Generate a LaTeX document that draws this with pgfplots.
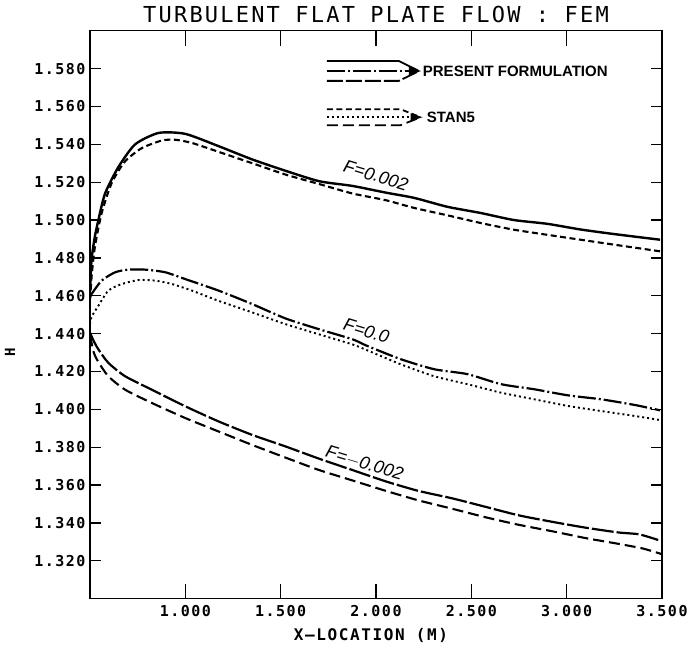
\documentclass[border=0pt]{standalone}
\usepackage{pgfplots}
\pgfplotsset{compat=1.18}
\usepackage{fontspec}
\setmainfont{Liberation Sans}
\newfontfamily\plotfont{DejaVu Sans Mono}[LetterSpace=10]
\newfontfamily\curvefont{Liberation Sans}
\usetikzlibrary{arrows.meta}

\tikzset{
  presA/.style={black, line width=2.4bp},
  presB/.style={black, line width=2.2bp, dash pattern=on 18bp off 3bp on 2bp off 3bp},
  presC/.style={black, line width=2.2bp, dash pattern=on 22bp off 3bp},
  stanA/.style={black, line width=2.1bp, dash pattern=on 6bp off 3.5bp},
  stanB/.style={black, line width=1.9bp, dash pattern=on 2bp off 3bp},
  stanC/.style={black, line width=2.1bp, dash pattern=on 11bp off 5bp},
}

\begin{document}
\begin{tikzpicture}
\begin{axis}[
  scale only axis, width=572bp, height=568bp,
  xmin=0.5, xmax=3.5, ymin=1.3, ymax=1.6,
  xtick={1,1.5,2,2.5,3,3.5},
  ytick={1.32,1.34,1.36,1.38,1.40,1.42,1.44,1.46,1.48,1.50,1.52,1.54,1.56,1.58},
  tick align=inside,
  xtick style={/pgfplots/major tick length=15bp, line width=1.3bp, black},
  ytick style={/pgfplots/major tick length=11bp, line width=1.3bp, black},
  axis line style={line width=1.4bp},
  xticklabel style={font=\plotfont\bfseries\fontsize{15bp}{15bp}\selectfont, yshift=-3bp},
  yticklabel style={font=\plotfont\bfseries\fontsize{15bp}{15bp}\selectfont, xshift=-1bp},
  title={TURBULENT FLAT PLATE FLOW : FEM},
  title style={font=\plotfont\fontsize{22bp}{22bp}\selectfont, at={(axis description cs:0.5,1)}, anchor=base, yshift=2bp},
  xlabel={X–LOCATION (M)},
  xlabel style={font=\plotfont\bfseries\fontsize{16bp}{16bp}\selectfont, at={(axis description cs:0.5,0)}, anchor=base, yshift=-42bp, xshift=-5bp},
  ylabel={H},
  ylabel style={font=\plotfont\bfseries\fontsize{14bp}{14bp}\selectfont, at={(axis description cs:-0.14,0.434)}, anchor=center},
  /pgf/number format/.cd, fixed, fixed zerofill, precision=3, assume math mode=true,
]

% F = 0.002, present formulation (solid)
\addplot[presA, smooth, tension=0.4] coordinates {
(0.5,1.462) (0.503,1.470) (0.509,1.480) (0.525,1.491) (0.544,1.500) (0.579,1.514) (0.649,1.528) (0.737,1.540) (0.860,1.546) (1.0,1.5455) (1.175,1.539) (1.351,1.532) (1.526,1.526) (1.702,1.5205) (1.877,1.518) (2.05,1.5145) (2.2,1.5117) (2.374,1.507) (2.55,1.5037) (2.723,1.500) (2.898,1.498) (3.073,1.495) (3.248,1.4926) (3.49,1.4896)
};
% F = 0.002, STAN5 (dashed)
\addplot[stanA, smooth, tension=0.4] coordinates {
(0.5,1.458) (0.51,1.472) (0.526,1.486) (0.561,1.5036) (0.614,1.5196) (0.684,1.531) (0.772,1.538) (0.877,1.542) (0.947,1.5424) (1.035,1.5407) (1.175,1.536) (1.351,1.530) (1.526,1.524) (1.702,1.519) (1.877,1.514) (2.05,1.5105) (2.2,1.5064) (2.374,1.5025) (2.55,1.4984) (2.723,1.4949) (2.898,1.4922) (3.073,1.4896) (3.248,1.487) (3.495,1.4834)
};
% F = 0.0, present formulation (dash-dot)
\addplot[presB, smooth, tension=0.4] coordinates {
(0.5,1.459) (0.509,1.461) (0.561,1.468) (0.632,1.4724) (0.702,1.4738) (0.789,1.4738) (0.895,1.4724) (1.0,1.4688) (1.175,1.4627) (1.351,1.4556) (1.526,1.448) (1.702,1.4423) (1.877,1.437) (1.954,1.4335) (2.13,1.4265) (2.305,1.4212) (2.48,1.4186) (2.656,1.4133) (2.831,1.4106) (3.007,1.4074) (3.182,1.4053) (3.358,1.4023) (3.49,1.3995)
};
% F = 0.0, STAN5 (dotted)
\addplot[stanB, smooth, tension=0.4] coordinates {
(0.5,1.445) (0.509,1.449) (0.544,1.4547) (0.596,1.4627) (0.667,1.4662) (0.754,1.4683) (0.842,1.468) (0.93,1.4662) (1.035,1.4627) (1.175,1.4573) (1.351,1.4512) (1.526,1.445) (1.702,1.4396) (1.877,1.4343) (1.954,1.4312) (2.13,1.4238) (2.305,1.4175) (2.48,1.4133) (2.656,1.4088) (2.831,1.4053) (3.007,1.4018) (3.182,1.3991) (3.358,1.3965) (3.5,1.3942)
};
% F = -0.002, present formulation (long dash)
\addplot[presC, smooth, tension=0.4] coordinates {
(0.5,1.4405) (0.52,1.436) (0.544,1.4317) (0.596,1.4246) (0.684,1.4175) (0.824,1.4104) (1.0,1.4016) (1.175,1.3936) (1.351,1.3865) (1.526,1.3804) (1.7,1.374) (1.875,1.368) (2.05,1.362) (2.22,1.357) (2.4,1.353) (2.575,1.3485) (2.75,1.344) (2.93,1.3405) (3.1,1.3375) (3.27,1.335) (3.38,1.334) (3.48,1.331)
};
% F = -0.002, STAN5 (long dashed)
\addplot[stanC, smooth, tension=0.4] coordinates {
(0.5,1.439) (0.52,1.430) (0.544,1.425) (0.596,1.4175) (0.684,1.4104) (0.824,1.4034) (1.0,1.3954) (1.175,1.3883) (1.351,1.3812) (1.526,1.3745) (1.7,1.368) (1.875,1.3625) (2.05,1.357) (2.22,1.352) (2.4,1.3475) (2.575,1.343) (2.75,1.339) (2.93,1.3355) (3.1,1.332) (3.27,1.329) (3.4,1.3265) (3.5,1.3235)
};

% curve labels
\node[rotate=-17, font=\curvefont\itshape\fontsize{18bp}{18bp}\selectfont] at (axis cs:2.0,1.5235) {F=0.002};
\node[rotate=-17, font=\curvefont\itshape\fontsize{18bp}{18bp}\selectfont] at (axis cs:1.95,1.4415) {F=0.0};
\node[rotate=-17, font=\curvefont\itshape\fontsize{18bp}{18bp}\selectfont] at (axis cs:1.94,1.3715) {F=$-$0.002};

% legend: present formulation
\draw[presA, line width=1.8bp] (axis cs:1.743,1.5840) -- (axis cs:2.12,1.5840) -- (axis cs:2.22,1.5790);
\draw[presB, line width=1.8bp] (axis cs:1.743,1.5787) -- (axis cs:2.20,1.5787);
\draw[presC, line width=1.8bp, dash pattern=on 16bp off 3bp] (axis cs:1.743,1.5735) -- (axis cs:2.12,1.5735) -- (axis cs:2.22,1.5784);
\fill (axis cs:2.236,1.5787) -- ++(-12bp,4bp) -- ++(0bp,-8bp) -- cycle;
\node[anchor=west, inner sep=0pt, font=\curvefont\bfseries\fontsize{15bp}{15bp}\selectfont] at (axis cs:2.245,1.5787) {PRESENT FORMULATION};
% legend: STAN5
\draw[stanA, line width=1.8bp] (axis cs:1.743,1.5585) -- (axis cs:2.129,1.5585) -- (axis cs:2.23,1.5545);
\draw[stanB, line width=1.6bp] (axis cs:1.743,1.5543) -- (axis cs:2.21,1.5543);
\draw[stanC, line width=1.8bp] (axis cs:1.743,1.5501) -- (axis cs:2.129,1.5501) -- (axis cs:2.23,1.5541);
\fill (axis cs:2.244,1.5543) -- ++(-12bp,4bp) -- ++(0bp,-8bp) -- cycle;
\node[anchor=west, inner sep=0pt, font=\curvefont\bfseries\fontsize{15bp}{15bp}\selectfont] at (axis cs:2.266,1.5543) {STAN5};
\end{axis}
\pgfresetboundingbox
\useasboundingbox ([shift={(-90bp,-50bp)}]current axis.south west) rectangle ([shift={(31bp,30.7bp)}]current axis.north east);
\end{tikzpicture}
\end{document}
